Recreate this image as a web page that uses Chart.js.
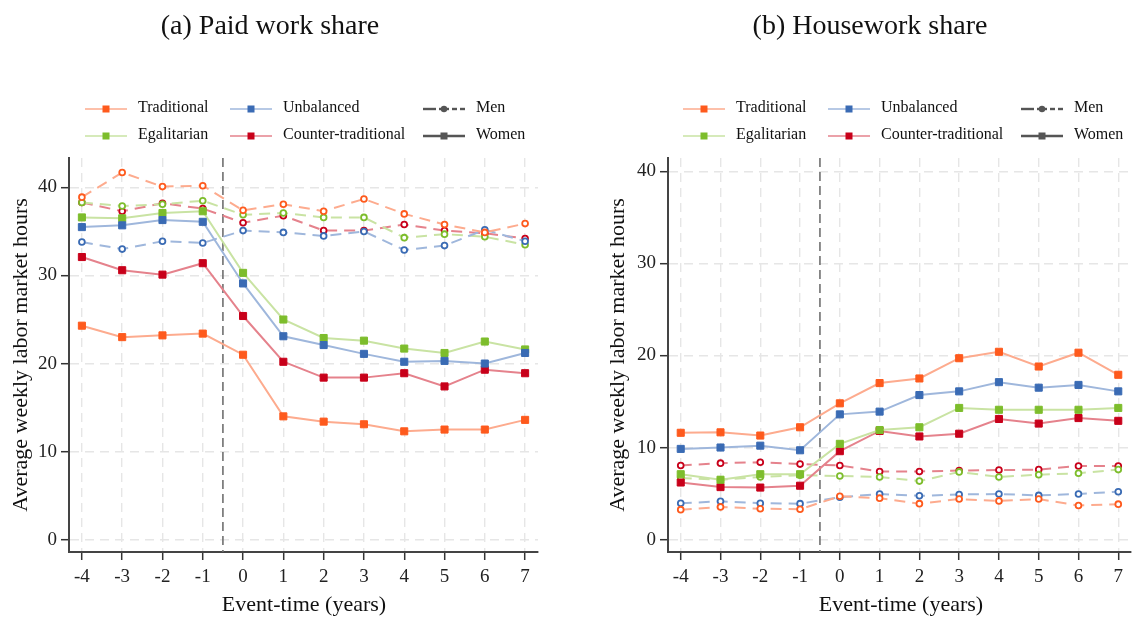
<!DOCTYPE html>
<html><head><meta charset="utf-8">
<script src="https://cdn.jsdelivr.net/npm/chart.js@4.4.0/dist/chart.umd.min.js"></script>
<style>
html,body{margin:0;padding:0;background:#fff;}
#wrap{position:relative;width:1137px;height:619px;overflow:hidden;font-family:"Liberation Serif","Times New Roman",serif;color:#111;}
canvas{position:absolute;top:0;}
.ttl{position:absolute;width:500px;text-align:center;font-size:28px;line-height:34px;top:8px;}
.xt{position:absolute;width:400px;text-align:center;font-size:22px;line-height:26px;top:591px;}
.yt{position:absolute;width:420px;text-align:center;font-size:22px;line-height:26px;height:26px;transform:rotate(-90deg);}
.lg{position:absolute;font-size:16px;line-height:20px;white-space:nowrap;}
.mk{position:absolute;}
</style>
</head><body>
<div id="wrap">
  <canvas id="c1" width="560" height="619" style="left:0px"></canvas>
  <canvas id="c2" width="562" height="619" style="left:575px"></canvas>
  <div class="ttl" style="left:20px">(a) Paid work share</div>
  <div class="ttl" style="left:620px">(b) Housework share</div>
  <div class="xt" style="left:104px">Event-time (years)</div>
  <div class="xt" style="left:701px">Event-time (years)</div>
  <div class="yt" style="left:-190px;top:342px">Average weekly labor market hours</div>
  <div class="yt" style="left:407px;top:342px">Average weekly labor market hours</div>
  <div id="legends"></div>
</div>
<script>
// ---- data ----
const years = [-4,-3,-2,-1,0,1,2,3,4,5,6,7];
const xTickLabels = ['-4','-3','-2','-1','0','1','2','3','4','5','6','7'];
const yTicks = [0,10,20,30,40];
const seriesNames = ['Traditional','Unbalanced','Egalitarian','Counter-traditional'];

// (a) Paid work share
const paidWomenTraditional = [24.3,23.0,23.2,23.4,21.0,14.0,13.4,13.1,12.3,12.5,12.5,13.6];
const paidWomenUnbalanced  = [35.5,35.7,36.3,36.1,29.1,23.1,22.1,21.1,20.2,20.3,20.0,21.2];
const paidWomenEgalitarian = [36.6,36.5,37.1,37.3,30.3,25.0,22.9,22.6,21.7,21.2,22.5,21.6];
const paidWomenCounter     = [32.1,30.6,30.1,31.4,25.4,20.2,18.4,18.4,18.9,17.4,19.3,18.9];
const paidMenTraditional   = [38.9,41.7,40.1,40.2,37.4,38.1,37.3,38.7,37.0,35.8,34.9,35.9];
const paidMenUnbalanced    = [33.8,33.0,33.9,33.7,35.1,34.9,34.5,35.0,32.9,33.4,35.2,33.9];
const paidMenEgalitarian   = [38.3,37.9,38.1,38.5,36.9,37.1,36.6,36.6,34.3,34.7,34.4,33.5];
const paidMenCounter       = [38.3,37.3,38.2,37.6,36.0,36.8,35.1,35.1,35.8,35.1,34.8,34.2];

// (b) Housework share
const hwWomenTraditional = [11.6,11.65,11.3,12.2,14.8,17.0,17.5,19.7,20.4,18.8,20.3,17.9];
const hwWomenUnbalanced  = [9.85,10.0,10.2,9.7,13.6,13.9,15.7,16.1,17.1,16.5,16.8,16.1];
const hwWomenEgalitarian = [7.1,6.5,7.1,7.1,10.4,11.9,12.2,14.3,14.1,14.1,14.1,14.3];
const hwWomenCounter     = [6.2,5.7,5.65,5.85,9.6,11.8,11.2,11.5,13.1,12.6,13.2,12.9];
const hwMenTraditional   = [3.25,3.55,3.35,3.3,4.7,4.5,3.9,4.4,4.2,4.4,3.7,3.85];
const hwMenUnbalanced    = [3.95,4.15,3.95,3.9,4.6,4.95,4.75,4.9,4.95,4.8,4.95,5.2];
const hwMenEgalitarian   = [6.7,6.5,6.8,7.0,6.9,6.8,6.35,7.35,6.8,7.05,7.2,7.6];
const hwMenCounter       = [8.05,8.3,8.4,8.2,8.05,7.4,7.4,7.5,7.55,7.6,8.0,8.0];

// ---- styles ----
const markerColors = {'Traditional':'#fe5a1d','Unbalanced':'#3a6bb4','Egalitarian':'#7dbd2c','Counter-traditional':'#c8001a'};
const lineColors   = {'Traditional':'#fdab8e','Unbalanced':'#9fb7dc','Egalitarian':'#c9e3a3','Counter-traditional':'#e5828c'};
const FONT = "'Liberation Serif','Times New Roman',serif";

function pts(arr){ return years.map((x,i)=>({x:x,y:arr[i]})); }
function women(name, arr){
  return {label:name+' women', data:pts(arr), borderColor:lineColors[name], borderWidth:2,
    pointStyle:'rect', pointRadius:5, pointBackgroundColor:markerColors[name], pointBorderColor:markerColors[name],
    pointBorderWidth:1, tension:0, order:1};
}
function men(name, arr){
  return {label:name+' men', data:pts(arr), borderColor:lineColors[name], borderWidth:2, borderDash:[11,7],
    pointStyle:'circle', pointRadius:2.9, pointBackgroundColor:'#ffffff', pointBorderColor:markerColors[name],
    pointBorderWidth:1.8, tension:0, order:2};
}

const vline = {
  id:'vline',
  beforeDatasetsDraw(chart){
    const {ctx, chartArea, scales} = chart;
    const x = scales.x.getPixelForValue(-0.5);
    ctx.save();
    ctx.strokeStyle = '#707070'; ctx.lineWidth = 1.6; ctx.setLineDash([9,5]);
    ctx.beginPath(); ctx.moveTo(x, chartArea.top); ctx.lineTo(x, chartArea.bottom); ctx.stroke();
    ctx.restore();
  }
};

function makeChart(id, datasets, ymin, ymax, yWidth, padRight){
  return new Chart(document.getElementById(id), {
    type:'line',
    data:{datasets:datasets},
    plugins:[vline],
    options:{
      responsive:false, animation:false, devicePixelRatio:1,
      layout:{padding:{top:158, right:padRight, left:0, bottom:0}},
      plugins:{legend:{display:false}, tooltip:{enabled:false}, title:{display:false}},
      scales:{
        x:{type:'linear', min:-4.32, max:7.32,
          afterBuildTicks(s){ s.ticks = years.map(v=>({value:v})); },
          afterFit(s){ s.height = 67; },
          ticks:{font:{family:FONT, size:19}, color:'#222', padding:6, maxRotation:0, autoSkip:false,
            callback:(v)=>{ const i = years.indexOf(v); return i>=0 ? xTickLabels[i] : ''; }},
          grid:{color:'#e6e6e6', lineWidth:1.4, tickColor:'#333', tickWidth:1.5, tickLength:8, tickBorderDash:[]},
          border:{display:true, color:'#444', width:2, dash:[9,6]}
        },
        y:{type:'linear', min:ymin, max:ymax,
          afterBuildTicks(s){ s.ticks = yTicks.map(v=>({value:v})); },
          afterFit(s){ s.width = yWidth; },
          ticks:{font:{family:FONT, size:19}, color:'#222', padding:4, autoSkip:false},
          grid:{color:'#e6e6e6', lineWidth:1.4, tickColor:'#333', tickWidth:1.5, tickLength:8, tickBorderDash:[]},
          border:{display:true, color:'#444', width:2, dash:[9,6]}
        }
      }
    }
  });
}

makeChart('c1', [
  women('Traditional', paidWomenTraditional), women('Unbalanced', paidWomenUnbalanced),
  women('Egalitarian', paidWomenEgalitarian), women('Counter-traditional', paidWomenCounter),
  men('Traditional', paidMenTraditional), men('Unbalanced', paidMenUnbalanced),
  men('Egalitarian', paidMenEgalitarian), men('Counter-traditional', paidMenCounter)
], -1.41, 43.35, 69, 22);

makeChart('c2', [
  women('Traditional', hwWomenTraditional), women('Unbalanced', hwWomenUnbalanced),
  women('Egalitarian', hwWomenEgalitarian), women('Counter-traditional', hwWomenCounter),
  men('Traditional', hwMenTraditional), men('Unbalanced', hwMenUnbalanced),
  men('Egalitarian', hwMenEgalitarian), men('Counter-traditional', hwMenCounter)
], -1.35, 41.45, 93, 0);

// ---- legends (HTML) ----
const legendItems = [
  {text:'Traditional', kind:'Traditional', col:0, row:0},
  {text:'Unbalanced', kind:'Unbalanced', col:1, row:0},
  {text:'Men', kind:'men', col:2, row:0},
  {text:'Egalitarian', kind:'Egalitarian', col:0, row:1},
  {text:'Counter-traditional', kind:'Counter-traditional', col:1, row:1},
  {text:'Women', kind:'women', col:2, row:1}
];
const colMarkerX = [85, 230, 423];
const colTextX = [138, 283, 476];
const rowY = [107, 134];
function markerSvg(kind){
  if (kind==='men'){
    return '<svg width="44" height="12"><line x1="0" y1="6" x2="13" y2="6" stroke="#555" stroke-width="2.4"/>'+
      '<line x1="16" y1="6" x2="26" y2="6" stroke="#555" stroke-width="2.4"/>'+
      '<circle cx="21" cy="6" r="3.2" fill="#555"/>'+
      '<line x1="29" y1="6" x2="34" y2="6" stroke="#555" stroke-width="2.4"/>'+
      '<line x1="37" y1="6" x2="42" y2="6" stroke="#555" stroke-width="2.4"/></svg>';
  }
  if (kind==='women'){
    return '<svg width="44" height="12"><line x1="0" y1="6" x2="42" y2="6" stroke="#555" stroke-width="2.4"/>'+
      '<rect x="17.5" y="2.5" width="7" height="7" fill="#555"/></svg>';
  }
  return '<svg width="44" height="12"><line x1="0" y1="6" x2="42" y2="6" stroke="'+lineColors[kind]+'" stroke-width="1.6"/>'+
    '<rect x="17.5" y="2.5" width="7" height="7" fill="'+markerColors[kind]+'"/></svg>';
}
let html = '';
[0, 598].forEach(off=>{
  legendItems.forEach(it=>{
    const y = rowY[it.row];
    html += '<div class="mk" style="left:'+(colMarkerX[it.col]+off)+'px;top:'+(y-6)+'px">'+markerSvg(it.kind)+'</div>';
    html += '<div class="lg" style="left:'+(colTextX[it.col]+off)+'px;top:'+(y-10)+'px">'+it.text+'</div>';
  });
});
document.getElementById('legends').innerHTML = html;
</script>
</body></html>
